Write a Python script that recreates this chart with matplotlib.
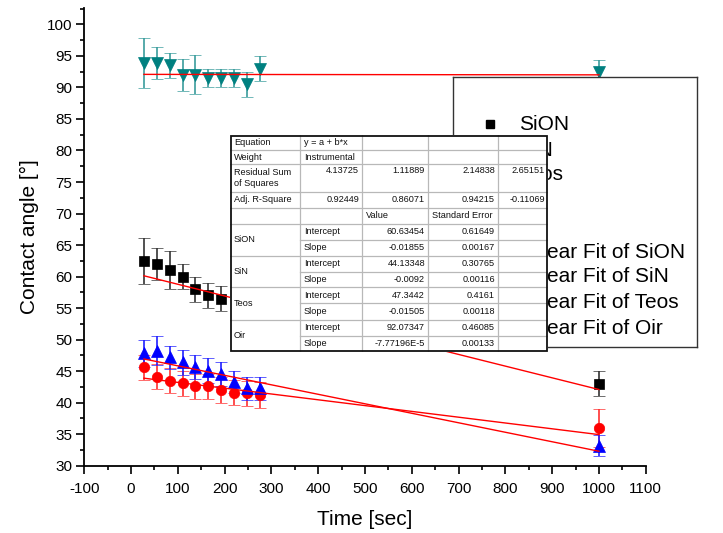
import matplotlib
matplotlib.use('Agg')
import matplotlib.pyplot as plt
from matplotlib.patches import Rectangle
from matplotlib.ticker import MultipleLocator

plt.rcParams['font.family'] = ['Liberation Sans', 'DejaVu Sans']
plt.rcParams['axes.unicode_minus'] = False

# ---------------- data ----------------
sion_x = [27.5, 55, 82.5, 110, 137.5, 165, 192.5, 1000]
sion_y = [62.5, 62.0, 61.0, 60.0, 58.0, 57.0, 56.5, 43.0]
sion_err = [3.6, 2.5, 3.0, 2.0, 2.0, 2.0, 2.0, 2.0]

sin_x = [27.5, 55, 82.5, 110, 137.5, 165, 192.5, 220, 247.5, 275, 1000]
sin_y = [45.6, 44.1, 43.5, 43.1, 42.6, 42.6, 42.0, 41.6, 41.5, 41.2, 36.0]
sin_err = [2.0, 2.0, 2.0, 2.0, 2.0, 2.0, 2.0, 2.0, 2.0, 2.0, 3.0]

teos_x = [27.5, 55, 82.5, 110, 137.5, 165, 192.5, 220, 247.5, 275, 1000]
teos_y = [47.8, 48.2, 47.2, 46.4, 45.7, 45.1, 44.6, 43.3, 42.3, 42.3, 33.2]
teos_err = [2.2, 2.3, 1.8, 2.0, 1.9, 2.0, 1.9, 1.8, 1.8, 1.8, 1.6]

oir_x = [27.5, 55, 82.5, 110, 137.5, 165, 192.5, 220, 247.5, 275, 1000]
oir_y = [93.9, 93.9, 93.5, 92.0, 92.0, 91.5, 91.5, 91.5, 90.5, 93.0, 92.4]
oir_err = [4.0, 2.5, 2.0, 2.5, 3.1, 1.5, 1.5, 1.5, 2.0, 2.0, 2.0]

series_names = ['SiON', 'SiN', 'Teos', 'Oir']
intercepts = [60.63454, 44.13348, 47.3442, 92.07347]
intercept_err = ['0.61649', '0.30765', '0.4161', '0.46085']
slopes = [-0.01855, -0.0092, -0.01505, -7.77196e-5]
slope_labels = ['-0.01855', '-0.0092', '-0.01505', '-7.77196E-5']
slope_err = ['0.00167', '0.00116', '0.00118', '0.00133']
intercept_labels = ['60.63454', '44.13348', '47.3442', '92.07347']
rss = ['4.13725', '1.11889', '2.14838', '2.65151']
adj_r2 = ['0.92449', '0.86071', '0.94215', '-0.11069']

x_ticks = [-100, 0, 100, 200, 300, 400, 500, 600, 700, 800, 900, 1000, 1100]
y_ticks = [30, 35, 40, 45, 50, 55, 60, 65, 70, 75, 80, 85, 90, 95, 100]

W, H = 723, 533
fig = plt.figure(figsize=(W / 100, H / 100), dpi=100)


def frac_box(x0, y0, x1, y1):
    """pixel box (top-left origin) -> figure fraction rect"""
    return [x0 / W, 1 - y1 / H, (x1 - x0) / W, (y1 - y0) / H]


# ---------------- main axes ----------------
ax = fig.add_axes(frac_box(84.3, 8, 645.7, 465.7))
ax.set_zorder(1)
ax.set_xlim(-100, 1100)
ax.set_ylim(30, 102.6)
ax.spines['top'].set_visible(False)
ax.spines['right'].set_visible(False)
ax.spines['left'].set_linewidth(1.3)
ax.spines['bottom'].set_linewidth(1.3)
ax.set_xticks(x_ticks)
ax.set_yticks(y_ticks)
ax.xaxis.set_minor_locator(MultipleLocator(50))
ax.yaxis.set_minor_locator(MultipleLocator(2.5))
ax.tick_params(which='major', direction='out', length=5.5, width=1.2, labelsize=11)
ax.tick_params(axis='x', which='major', pad=6.5)
ax.tick_params(axis='y', which='major', pad=3)
ax.tick_params(which='minor', direction='out', length=3, width=1.2)
ax.set_xlabel('Time [sec]', fontsize=15, labelpad=10)
ax.set_ylabel('Contact angle [°]', fontsize=15, labelpad=6)

styles = [
    (sion_x, sion_y, sion_err, 's', '#000000', '#333333', 6.8),
    (sin_x, sin_y, sin_err, 'o', '#ff0000', '#ff3030', 7.5),
    (teos_x, teos_y, teos_err, '^', '#0000ff', '#2020ff', 8.5),
    (oir_x, oir_y, oir_err, 'v', '#008080', '#3a9c9c', 8.5),
]
for xs, ys, es, mk, col, ecol, ms in styles:
    ax.errorbar(xs, ys, yerr=es, fmt=mk, color=col, ecolor=ecol, ms=ms,
                mec=col, mew=0.5, elinewidth=1.2, capsize=4.5, capthick=1.2,
                zorder=3)

for xs, a, b in zip([sion_x, sin_x, teos_x, oir_x], intercepts, slopes):
    x0, x1 = min(xs), max(xs)
    ax.plot([x0, x1], [a + b * x0, a + b * x1], color='#ff0000', lw=1.0, zorder=4)

# ---------------- legend box (manual) ----------------
lx0, ly0, lx1, ly1 = 453, 77, 697, 347
leg = fig.add_axes(frac_box(lx0, ly0, lx1, ly1))
leg.set_zorder(2)
leg.set_xlim(lx0, lx1)
leg.set_ylim(ly1, ly0)
leg.set_xticks([])
leg.set_yticks([])
for s in leg.spines.values():
    s.set_linewidth(1.0)
    s.set_color('#333333')

marker_rows = [124, 150, 175, 200]
for (xs, ys, es, mk, col, ecol, ms), yy, name in zip(styles, marker_rows, series_names):
    leg.plot([490], [yy], marker=mk, color=col, ms=ms * 0.95, ls='none')
    leg.text(519, yy, name, fontsize=15, va='center', ha='left')
fit_rows = [252, 277, 303, 328]
for yy, name in zip(fit_rows, series_names):
    leg.plot([470, 510], [yy, yy], color='#ff0000', lw=1.0)
    leg.text(519, yy, 'Linear Fit of ' + name, fontsize=15, va='center', ha='left')

# ---------------- fit table (manual) ----------------
cols = [230, 300, 362, 428, 498, 548]
rows = [135, 150, 164.3, 191.7, 207.7, 224, 240, 255.7, 271.7, 287.3, 303.3, 320, 336, 351.7]
tb = fig.add_axes(frac_box(cols[0], rows[0], cols[-1], rows[-1]))
tb.set_zorder(3)
tb.set_xlim(cols[0], cols[-1])
tb.set_ylim(rows[-1], rows[0])
tb.set_xticks([])
tb.set_yticks([])
for s in tb.spines.values():
    s.set_visible(False)
tb.add_patch(Rectangle((cols[0], rows[0]), cols[-1] - cols[0], rows[-1] - rows[0],
                       facecolor='white', edgecolor='none', zorder=0))

grid_c = '#b8b8b8'
for c in cols[1:-1]:
    tb.plot([c, c], [rows[0], rows[-1]], color=grid_c, lw=0.9, zorder=1)
for i, r in enumerate(rows[1:-1], start=1):
    if i >= 6 and (i - 5) % 2 == 1:
        tb.plot([cols[1], cols[-1]], [r, r], color=grid_c, lw=0.9, zorder=1)
    else:
        tb.plot([cols[0], cols[-1]], [r, r], color=grid_c, lw=0.9, zorder=1)
tb.add_patch(Rectangle((cols[0] + 0.6, rows[0] + 0.6), cols[-1] - cols[0] - 1.2,
                       rows[-1] - rows[0] - 1.2, facecolor='none',
                       edgecolor='#111111', lw=1.3, zorder=2))

fs = 6.6


def cell_left(ci, ri, txt, va='center'):
    y = (rows[ri] + rows[ri + 1]) / 2 if va == 'center' else rows[ri] + 2
    tb.text(cols[ci] + 4, y, txt, fontsize=fs, ha='left', va=va, color='#111111')


def cell_right(ci, ri, txt, va='center'):
    y = (rows[ri] + rows[ri + 1]) / 2 if va == 'center' else rows[ri] + 2
    tb.text(cols[ci + 1] - 3, y, txt, fontsize=fs, ha='right', va=va, color='#111111')


cell_left(0, 0, 'Equation')
cell_left(1, 0, 'y = a + b*x')
cell_left(0, 1, 'Weight')
cell_left(1, 1, 'Instrumental')
cell_left(0, 2, 'Residual Sum\nof Squares')
for k, v in enumerate(rss):
    cell_right(1 + k, 2, v, va='top')
cell_left(0, 3, 'Adj. R-Square')
for k, v in enumerate(adj_r2):
    cell_right(1 + k, 3, v)
cell_left(2, 4, 'Value')
cell_left(3, 4, 'Standard Error')
for g, name in enumerate(series_names):
    ri = 5 + 2 * g
    tb.text(cols[0] + 4, rows[ri + 1], name, fontsize=fs, ha='left', va='center', color='#111111')
    cell_left(1, ri, 'Intercept')
    cell_left(1, ri + 1, 'Slope')
    cell_right(2, ri, intercept_labels[g])
    cell_right(3, ri, intercept_err[g])
    cell_right(2, ri + 1, slope_labels[g])
    cell_right(3, ri + 1, slope_err[g])

fig.savefig('out.png', dpi=100)
